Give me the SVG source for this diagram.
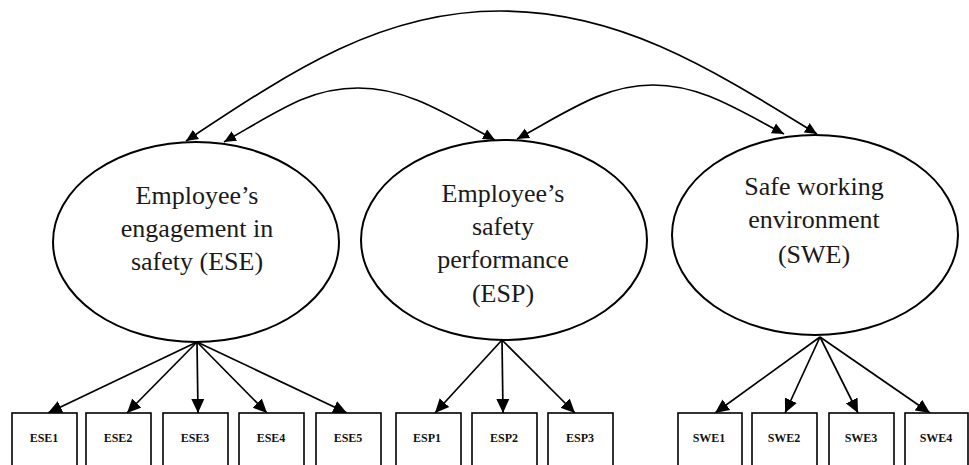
<svg xmlns="http://www.w3.org/2000/svg" width="969" height="465" viewBox="0 0 969 465">
<style>
.lat{fill:#fff;stroke:#000;stroke-width:2}
.ind{fill:#fff;stroke:#000;stroke-width:1.6}
.lt{font-size:26px;fill:#1a1a1a;text-anchor:middle}
.it{font-size:12px;font-weight:bold;fill:#111;text-anchor:middle}
.cv{fill:none;stroke:#000;stroke-width:1.7;marker-start:url(#ah);marker-end:url(#ah)}
.ld{fill:none;stroke:#000;stroke-width:1.7;marker-end:url(#al)}
</style>
<defs>
<marker id="ah" markerUnits="userSpaceOnUse" markerWidth="14" markerHeight="12" refX="12" refY="6" orient="auto-start-reverse"><path d="M0,0.5 L12,6 L0,11.5 z" fill="#000"/></marker>
<marker id="al" markerUnits="userSpaceOnUse" markerWidth="16" markerHeight="14" refX="14" refY="7" orient="auto"><path d="M0,0.5 L14,7 L0,13.5 z" fill="#000"/></marker>
</defs>
<rect width="969" height="465" fill="#fff"/>
<g id="connectors">
<path class="cv" d="M186,141 C290,72 380,11 500,11 C620,11 710,68 817,134"/>
<path class="cv" d="M224,142 C280,110 310,88 358,88 C405,88 440,110 495,140"/>
<path class="cv" d="M517,139 C570,110 605,85 653,85 C700,85 735,108 784,134"/>
<path class="ld" d="M197,342 L48,413"/>
<path class="ld" d="M197,342 L127,413"/>
<path class="ld" d="M197,342 L198,413"/>
<path class="ld" d="M197,342 L267,413"/>
<path class="ld" d="M197,342 L347,413"/>
<path class="ld" d="M502,340 L435,413"/>
<path class="ld" d="M502,340 L503,413"/>
<path class="ld" d="M502,340 L575,413"/>
<path class="ld" d="M820,337 L715,413"/>
<path class="ld" d="M820,337 L785,413"/>
<path class="ld" d="M820,337 L858,413"/>
<path class="ld" d="M820,337 L930,413"/>
</g>
<g font-family="'Liberation Serif', 'DejaVu Serif', 'Times New Roman', serif">
<g id="ESE">
<ellipse class="lat" cx="196" cy="242" rx="143" ry="100"/>
<text class="lt" x="197" y="204">Employee’s</text>
<text class="lt" x="197" y="237">engagement in</text>
<text class="lt" x="197" y="270">safety (ESE)</text>
</g>
<g id="ESP">
<ellipse class="lat" cx="504" cy="240" rx="143" ry="100"/>
<text class="lt" x="503" y="202">Employee’s</text>
<text class="lt" x="503" y="235">safety</text>
<text class="lt" x="503" y="268">performance</text>
<text class="lt" x="503" y="302">(ESP)</text>
</g>
<g id="SWE">
<ellipse class="lat" cx="815" cy="235" rx="143" ry="100"/>
<text class="lt" x="814" y="195">Safe working</text>
<text class="lt" x="814" y="228">environment</text>
<text class="lt" x="814" y="263">(SWE)</text>
</g>
<g id="ESE1"><rect class="ind" x="12" y="413" width="65" height="60"/><text class="it" x="44" y="442">ESE1</text></g>
<g id="ESE2"><rect class="ind" x="86" y="413" width="65" height="60"/><text class="it" x="118" y="442">ESE2</text></g>
<g id="ESE3"><rect class="ind" x="163" y="413" width="65" height="60"/><text class="it" x="195" y="442">ESE3</text></g>
<g id="ESE4"><rect class="ind" x="239" y="413" width="65" height="60"/><text class="it" x="271" y="442">ESE4</text></g>
<g id="ESE5"><rect class="ind" x="316" y="413" width="65" height="60"/><text class="it" x="348" y="442">ESE5</text></g>
<g id="ESP1"><rect class="ind" x="396" y="413" width="65" height="60"/><text class="it" x="427" y="442">ESP1</text></g>
<g id="ESP2"><rect class="ind" x="472" y="413" width="65" height="60"/><text class="it" x="504" y="442">ESP2</text></g>
<g id="ESP3"><rect class="ind" x="548" y="413" width="65" height="60"/><text class="it" x="580" y="442">ESP3</text></g>
<g id="SWE1"><rect class="ind" x="678" y="413" width="64" height="60"/><text class="it" x="709" y="442">SWE1</text></g>
<g id="SWE2"><rect class="ind" x="752" y="413" width="65" height="60"/><text class="it" x="784" y="442">SWE2</text></g>
<g id="SWE3"><rect class="ind" x="829" y="413" width="65" height="60"/><text class="it" x="861" y="442">SWE3</text></g>
<g id="SWE4"><rect class="ind" x="905" y="413" width="63" height="60"/><text class="it" x="936" y="442">SWE4</text></g>
</g>
</svg>
